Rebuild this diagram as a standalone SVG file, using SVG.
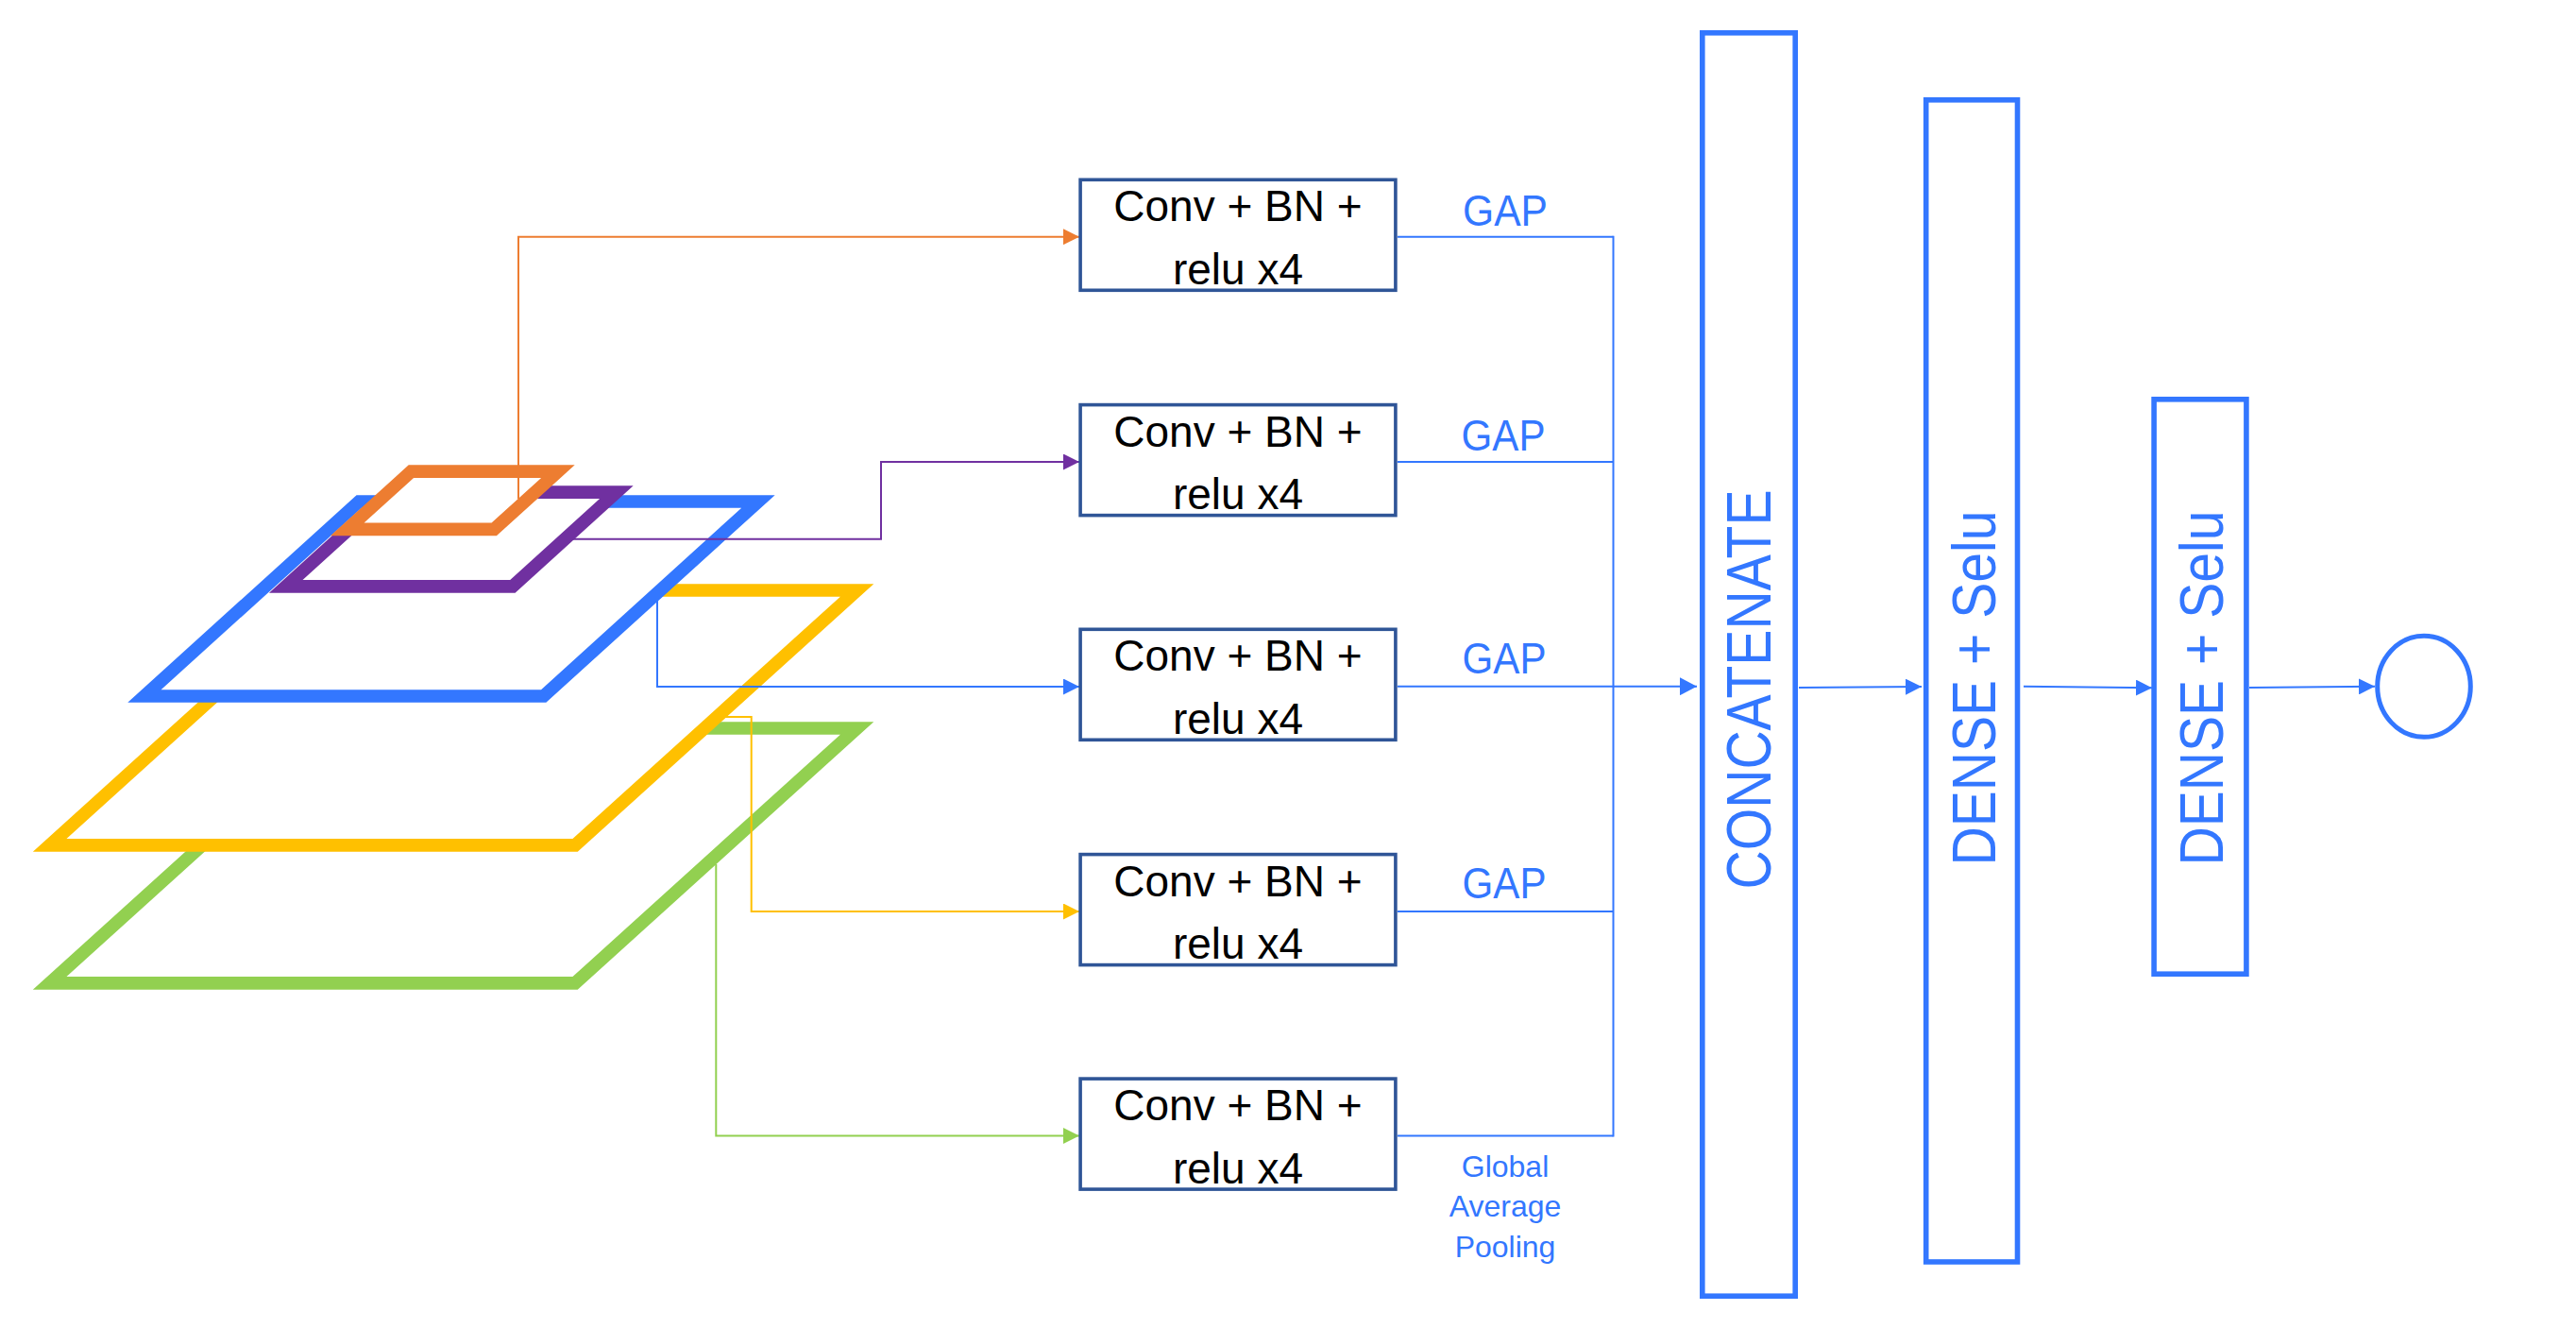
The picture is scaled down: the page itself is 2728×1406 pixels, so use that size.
<svg xmlns="http://www.w3.org/2000/svg" width="2728" height="1406" viewBox="0 0 2728 1406">
<style>
.par{fill:#fff;stroke-width:13.7;stroke-linejoin:miter}
.conv{fill:#fff;stroke:#2F5597;stroke-width:3.6}
.tall{fill:#fff;stroke:#3377FF;stroke-width:5.6}
.ctext{font-family:"Liberation Sans",Arial,sans-serif;font-size:46px;fill:#000;text-anchor:middle}
.gap{font-family:"Liberation Sans",Arial,sans-serif;font-size:47px;fill:#3377FF;text-anchor:middle}
.small{font-family:"Liberation Sans",Arial,sans-serif;font-size:32px;fill:#3377FF;text-anchor:middle}
.vtext{font-family:"Liberation Sans",Arial,sans-serif;fill:#3377FF;text-anchor:middle}
.ln{fill:none;stroke-width:2}
</style>
<defs>
<marker id="aOr" viewBox="0 0 17 17" refX="17" refY="8.5" markerWidth="17" markerHeight="17" markerUnits="userSpaceOnUse" orient="auto"><path d="M0,0 L17,8.5 L0,17 z" fill="#ED7D31"/></marker>
<marker id="aPu" viewBox="0 0 17 17" refX="17" refY="8.5" markerWidth="17" markerHeight="17" markerUnits="userSpaceOnUse" orient="auto"><path d="M0,0 L17,8.5 L0,17 z" fill="#7030A0"/></marker>
<marker id="aBl" viewBox="0 0 17 17" refX="17" refY="8.5" markerWidth="17" markerHeight="17" markerUnits="userSpaceOnUse" orient="auto"><path d="M0,0 L17,8.5 L0,17 z" fill="#3377FF"/></marker>
<marker id="aYe" viewBox="0 0 17 17" refX="17" refY="8.5" markerWidth="17" markerHeight="17" markerUnits="userSpaceOnUse" orient="auto"><path d="M0,0 L17,8.5 L0,17 z" fill="#FFC000"/></marker>
<marker id="aGr" viewBox="0 0 17 17" refX="17" refY="8.5" markerWidth="17" markerHeight="17" markerUnits="userSpaceOnUse" orient="auto"><path d="M0,0 L17,8.5 L0,17 z" fill="#92D050"/></marker>
<marker id="aBig" viewBox="0 0 18 19" refX="18" refY="9.5" markerWidth="18" markerHeight="19" markerUnits="userSpaceOnUse" orient="auto"><path d="M0,0 L18,9.5 L0,19 z" fill="#3377FF"/></marker>
</defs>

<g id="layers">
<polygon id="layer-green" class="par" stroke="#92D050" points="351,771 907.5,771 609.1,1040.9 52.6,1040.9"/>
<polygon id="layer-yellow" class="par" stroke="#FFC000" points="351,625 907.5,625 609.1,894.9 52.6,894.9"/>
<polygon id="layer-blue" class="par" stroke="#3377FF" points="380.2,531 802.9,531 575.7,737 153,737"/>
<polygon id="layer-purple" class="par" stroke="#7030A0" points="412.7,521.1 652.9,521.1 542.9,620.8 302.7,620.8"/>
<polygon id="layer-orange" class="par" stroke="#ED7D31" points="435.4,499.2 590.9,499.2 523.2,560.4 367.7,560.4"/>
</g>

<g id="connectors">
<polyline class="ln" stroke="#ED7D31" points="549,528.3 549,250.7 1143,250.7" marker-end="url(#aOr)"/>
<polyline class="ln" stroke="#7030A0" points="607,570.7 933,570.7 933,489 1143,489" marker-end="url(#aPu)"/>
<polyline class="ln" stroke="#3377FF" points="696,635 696,727 1143,727" marker-end="url(#aBl)"/>
<polyline class="ln" stroke="#FFC000" points="766.7,759 795.7,759 795.7,965 1143,965" marker-end="url(#aYe)"/>
<polyline class="ln" stroke="#92D050" points="758.3,915 758.3,1202.5 1143,1202.5" marker-end="url(#aGr)"/>
<line class="ln" stroke="#3377FF" x1="1480" y1="250.7" x2="1708.5" y2="250.7"/>
<line class="ln" stroke="#3377FF" x1="1480" y1="489" x2="1708.5" y2="489"/>
<line class="ln" stroke="#3377FF" x1="1480" y1="965" x2="1708.5" y2="965"/>
<line class="ln" stroke="#3377FF" x1="1480" y1="1202.5" x2="1708.5" y2="1202.5"/>
<line class="ln" stroke="#3377FF" x1="1708.5" y1="249.7" x2="1708.5" y2="1203.5"/>
<line class="ln" stroke="#3377FF" x1="1480" y1="726.7" x2="1797" y2="726.7" marker-end="url(#aBig)"/>
<line class="ln" stroke="#3377FF" x1="1905" y1="728" x2="2035" y2="727" marker-end="url(#aBl)"/>
<line class="ln" stroke="#3377FF" x1="2143" y1="726.7" x2="2279" y2="728.3" marker-end="url(#aBl)"/>
<line class="ln" stroke="#3377FF" x1="2382" y1="728" x2="2515" y2="726.7" marker-end="url(#aBl)"/>
</g>

<g id="conv1">
<rect class="conv" x="1144.1" y="190.3" width="333.8" height="117"/>
<text class="ctext" x="1311" y="234.3">Conv + BN +</text>
<text class="ctext" x="1311" y="300.7">relu x4</text>
</g>
<g id="conv2">
<rect class="conv" x="1144.1" y="428.6" width="333.8" height="117"/>
<text class="ctext" x="1311" y="472.6">Conv + BN +</text>
<text class="ctext" x="1311" y="539">relu x4</text>
</g>
<g id="conv3">
<rect class="conv" x="1144.1" y="666.3" width="333.8" height="117"/>
<text class="ctext" x="1311" y="710.3">Conv + BN +</text>
<text class="ctext" x="1311" y="776.7">relu x4</text>
</g>
<g id="conv4">
<rect class="conv" x="1144.1" y="904.6" width="333.8" height="117"/>
<text class="ctext" x="1311" y="948.6">Conv + BN +</text>
<text class="ctext" x="1311" y="1015">relu x4</text>
</g>
<g id="conv5">
<rect class="conv" x="1144.1" y="1142.1" width="333.8" height="117"/>
<text class="ctext" x="1311" y="1186.1">Conv + BN +</text>
<text class="ctext" x="1311" y="1252.5">relu x4</text>
</g>

<g id="gap-labels">
<text class="gap" x="1594" y="238.7" textLength="90" lengthAdjust="spacingAndGlyphs">GAP</text>
<text class="gap" x="1592" y="476.7" textLength="89" lengthAdjust="spacingAndGlyphs">GAP</text>
<text class="gap" x="1593" y="713.3" textLength="89" lengthAdjust="spacingAndGlyphs">GAP</text>
<text class="gap" x="1593" y="951" textLength="89" lengthAdjust="spacingAndGlyphs">GAP</text>
<text class="small" x="1594" y="1246.3">Global</text>
<text class="small" x="1594" y="1288.4">Average</text>
<text class="small" x="1594" y="1330.8">Pooling</text>
</g>

<g id="concatenate">
<rect class="tall" x="1802.8" y="34.8" width="98.4" height="1337.4"/>
<text class="vtext" font-size="66" transform="translate(1875,730) rotate(-90)" textLength="423" lengthAdjust="spacingAndGlyphs">CONCATENATE</text>
</g>
<g id="dense1">
<rect class="tall" x="2039.7" y="105.8" width="96.8" height="1230.2"/>
<text class="vtext" font-size="64" transform="translate(2113.3,728.5) rotate(-90)" textLength="376" lengthAdjust="spacingAndGlyphs">DENSE + Selu</text>
</g>
<g id="dense2">
<rect class="tall" x="2281.1" y="422.8" width="97.8" height="608.4"/>
<text class="vtext" font-size="64" transform="translate(2354,728.5) rotate(-90)" textLength="376" lengthAdjust="spacingAndGlyphs">DENSE + Selu</text>
</g>
<g id="output">
<ellipse cx="2567" cy="726.8" rx="49.3" ry="53.5" fill="#fff" stroke="#3377FF" stroke-width="5"/>
</g>
</svg>
